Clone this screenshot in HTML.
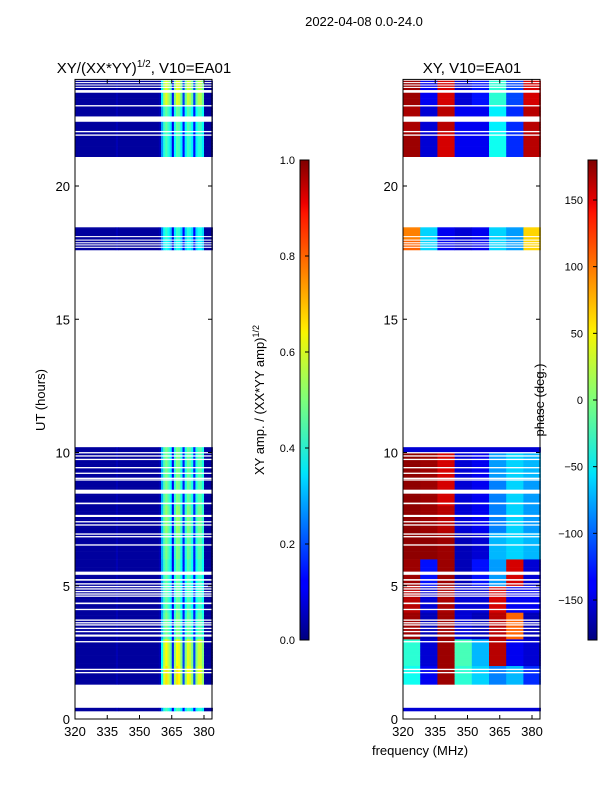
<!DOCTYPE html>
<html><head><meta charset="utf-8">
<style>
html,body{margin:0;padding:0;background:#fff;}
svg{display:block;font-family:"Liberation Sans","DejaVu Sans",sans-serif;}
</style></head>
<body>
<svg id="fig" width="600" height="800" viewBox="0 0 600 800" xmlns="http://www.w3.org/2000/svg">
<defs>
<linearGradient id="jetv" x1="0" y1="1" x2="0" y2="0">
<stop offset="0" stop-color="#00007f"/><stop offset="0.11" stop-color="#0000ff"/><stop offset="0.125" stop-color="#0000ff"/>
<stop offset="0.34" stop-color="#00dbff"/><stop offset="0.35" stop-color="#00e5f8"/><stop offset="0.5" stop-color="#7dff7a"/>
<stop offset="0.64" stop-color="#f8f500"/><stop offset="0.65" stop-color="#ffea00"/><stop offset="0.89" stop-color="#ff1300"/>
<stop offset="0.91" stop-color="#ed0000"/><stop offset="1" stop-color="#7f0000"/>
</linearGradient>
</defs>
<text x="364" y="26" font-size="13" text-anchor="middle">2022-04-08 0.0-24.0</text>
<text x="144" y="73" font-size="15" text-anchor="middle">XY/(XX*YY)<tspan font-size="10" dy="-6">1/2</tspan><tspan dy="6">, V10=EA01</tspan></text>
<text x="472" y="73" font-size="15" text-anchor="middle">XY, V10=EA01</text>
<text transform="translate(45,400) rotate(-90)" font-size="13" text-anchor="middle">UT (hours)</text>
<text transform="translate(264,400) rotate(-90)" font-size="13" text-anchor="middle">XY amp. / (XX*YY amp)<tspan font-size="9" dy="-5">1/2</tspan></text>
<text transform="translate(544,400) rotate(-90)" font-size="13" text-anchor="middle">phase (deg.)</text>
<text x="420" y="755" font-size="13" text-anchor="middle">frequency (MHz)</text>
<g id="left"></g>
<g id="right"></g>
<g id="cbars"></g>
</svg>
<script>
// ---- data ----
const freqStart = 320, freqEnd = 384;           // MHz
const xTickLabels = [320, 335, 350, 365, 380];
const yTickLabels = [0, 5, 10, 15, 20];
const ampTicks = [0.0, 0.2, 0.4, 0.6, 0.8, 1.0];
const phaseTicks = [-150, -100, -50, 0, 50, 100, 150];
const dataRanges = [[0.3, 0.42], [1.3, 10.2], [17.6, 18.45], [21.1, 23.95]];
const gapLines = [[9.99,0.05],[9.87,0.05],[9.74,0.05],[9.43,0.05],[9.22,0.05],[9.03,0.05],[8.97,0.05],[8.53,0.15],
  [8.09,0.06],[7.62,0.08],[7.40,0.05],[7.28,0.05],[6.94,0.05],[6.84,0.05],[6.53,0.05],[5.47,0.12],[5.22,0.06],
  [5.07,0.05],[4.97,0.05],[4.88,0.05],[4.78,0.05],[4.69,0.05],[4.61,0.05],[4.34,0.06],[4.11,0.05],[3.71,0.05],
  [3.61,0.05],[3.53,0.05],[3.40,0.05],[3.28,0.05],[3.13,0.08],[2.90,0.05],[1.86,0.05],[1.74,0.05],
  [18.10,0.04],[17.97,0.04],[17.87,0.04],[17.79,0.04],[17.70,0.04],
  [23.88,0.04],[23.79,0.04],[23.70,0.04],[23.55,0.1],[23.01,0.05],[22.51,0.2],[22.04,0.05],[21.91,0.05]];
// amplitude profile per 1 MHz channel (320..383)
const ampProfile = [0.03,0.03,0.03,0.03,0.03,0.03,0.03,0.03,0.03,0.03,0.03,0.03,0.03,0.03,0.03,0.03,
  0.03,0.03,0.03,0.05,0.03,0.03,0.03,0.03,0.03,0.03,0.03,0.03,0.03,0.03,0.03,0.03,
  0.03,0.03,0.03,0.03,0.03,0.03,0.03,0.05,0.3,0.45,0.5,0.45,0.38,0.12,0.42,0.5,
  0.48,0.4,0.15,0.4,0.48,0.46,0.4,0.15,0.4,0.46,0.46,0.4,0.03,0.03,0.03,0.03];
// band brightness per hour (0..23)
const bandLevel = [0.9,1.3,1.25,1.0,0.95,0.95,1.0,1.05,1.0,1.0,1,1,1,1,1,1,1,0.8,0.85,1,1,0.9,0.95,1.2];
// phase (deg) per hour (rows) x 8 MHz zone (columns: 320,328,...,376)
const phaseZones = {
  0:[-150,-150,-150,-150,-150,-150,-150,-150],
  1:[-40,-140,170,-30,-60,-90,-70,-120],
  2:[-30,-150,170,-20,-70,160,-140,-150],
  3:[170,-160,170,-150,-160,160,100,-160],
  4:[160,-150,165,-150,-150,150,-140,-140],
  5:[170,-130,170,-160,-130,-80,150,-150],
  6:[175,175,170,-160,-150,-70,-60,-70],
  7:[175,170,160,-150,-140,-90,-60,-80],
  8:[175,170,150,-150,-140,-90,-60,-80],
  9:[175,170,150,-150,-140,-80,-60,-70],
  17:[100,-60,-140,-150,-140,-60,-80,60],
  18:[90,-60,-140,-150,-140,-60,-80,60],
  21:[170,-150,150,-140,-140,-40,-120,160],
  22:[165,-150,160,-140,-140,-50,-120,160],
  23:[170,-140,150,-150,-130,-30,-110,150]
};
// ---- scales ----
const Y0 = 719, PXH = 26.65;
const yS = h => Y0 - h * PXH;
const panels = [{x0: 75, id: 'left'}, {x0: 403, id: 'right'}];
const PXF = 2.15;
const NS = 'http://www.w3.org/2000/svg';
function jet(v) {
  v = Math.max(0, Math.min(1, v));
  const r = Math.max(0, Math.min(1, Math.min(4*v-1.5, -4*v+4.5)));
  const g = Math.max(0, Math.min(1, Math.min(4*v-0.5, -4*v+3.5)));
  const b = Math.max(0, Math.min(1, Math.min(4*v+0.5, -4*v+2.5)));
  return 'rgb(' + Math.round(r*255) + ',' + Math.round(g*255) + ',' + Math.round(b*255) + ')';
}
function mk(tag, attrs, parent) {
  const e = document.createElementNS(NS, tag);
  for (const k in attrs) e.setAttribute(k, attrs[k]);
  parent.appendChild(e); return e;
}
function ampVal(h, c) {
  const hi = Math.floor(h);
  const base = ampProfile[c];
  if (base < 0.1) return base;
  return Math.min(1, base * bandLevel[hi]);
}
function phaseVal(h, c) {
  const hi = Math.floor(h);
  const row = phaseZones[hi] || phaseZones[0];
  return row[Math.min(7, Math.floor(c / 8))];
}
function drawPanel(p, valFn, norm, nameCell) {
  const g = document.getElementById(p.id);
  const nc = freqEnd - freqStart;
  const xS = f => p.x0 + (f - freqStart) * PXF;
  dataRanges.forEach(r => {
    for (let h = r[0]; h < r[1] - 1e-6; h += 0.1) {
      const h2 = Math.min(r[1], h + 0.1);
      let c = 0;
      while (c < nc) {
        const col = jet(norm(valFn(h + 0.01, c)));
        let c2 = c + 1;
        while (c2 < nc && jet(norm(valFn(h + 0.01, c2))) === col) c2++;
        const rc = mk('rect', {x: xS(freqStart + c).toFixed(2), y: yS(h2).toFixed(2),
          width: ((c2 - c) * PXF + 0.3).toFixed(2), height: ((h2 - h) * PXH + 0.3).toFixed(2), fill: col}, g);
        
        
        c = c2;
      }
    }
  });
  gapLines.forEach(gp => {
    const w = mk('rect', {x: p.x0, y: (yS(gp[0]) - gp[1]*PXH/2).toFixed(2), width: nc*PXF, height: (gp[1]*PXH).toFixed(2), fill: '#fff'}, g);
    
    
  });
  const fr = mk('rect', {x: p.x0, y: yS(24), width: 137, height: 24*PXH, fill: 'none', stroke: '#000', 'stroke-width': 1}, g);
  
  
  xTickLabels.forEach(f => {
    const x = xS(f);
    mk('line', {x1: x, x2: x, y1: Y0, y2: Y0 - 4, stroke: '#000'}, g);
    mk('line', {x1: x, x2: x, y1: yS(24), y2: yS(24) + 4, stroke: '#000'}, g);
    const t = mk('text', {x: x, y: Y0 + 17, 'font-size': 13, 'text-anchor': 'middle'}, g);
    t.textContent = f;
    
    
  });
  yTickLabels.forEach(v => {
    const y = yS(v);
    mk('line', {x1: p.x0, x2: p.x0 + 4, y1: y, y2: y, stroke: '#000'}, g);
    mk('line', {x1: p.x0 + 137, x2: p.x0 + 133, y1: y, y2: y, stroke: '#000'}, g);
    const t = mk('text', {x: p.x0 - 5, y: y + 5, 'font-size': 13, 'text-anchor': 'end'}, g);
    t.textContent = v;
    
    
  });
}
drawPanel(panels[0], ampVal, v => v, 'amp-cell');
drawPanel(panels[1], phaseVal, v => (v + 180) / 360, 'phase-cell');
const cb = document.getElementById('cbars');
function colorbar(x, ticks, lo, hi, name) {
  const top = 160, bot = 640;
  const r = mk('rect', {x: x, y: top, width: 9, height: bot - top, fill: 'url(#jetv)', stroke: '#000', 'stroke-width': 1}, cb);
  
  
  ticks.forEach(v => {
    const y = bot - (v - lo) / (hi - lo) * (bot - top);
    mk('line', {x1: x + 9, x2: x + 5, y1: y, y2: y, stroke: '#000'}, cb);
    const t = mk('text', {x: x - 5, y: y + 4, 'font-size': 11, 'text-anchor': 'end'}, cb);
    t.textContent = (lo === 0 ? v.toFixed(1) : (v < 0 ? '\u2212' + (-v) : v));
    
    
  });
}
colorbar(300, ampTicks, 0, 1, 'amp-colorbar');
colorbar(588, phaseTicks, -180, 180, 'phase-colorbar');
</script>
</body></html>
